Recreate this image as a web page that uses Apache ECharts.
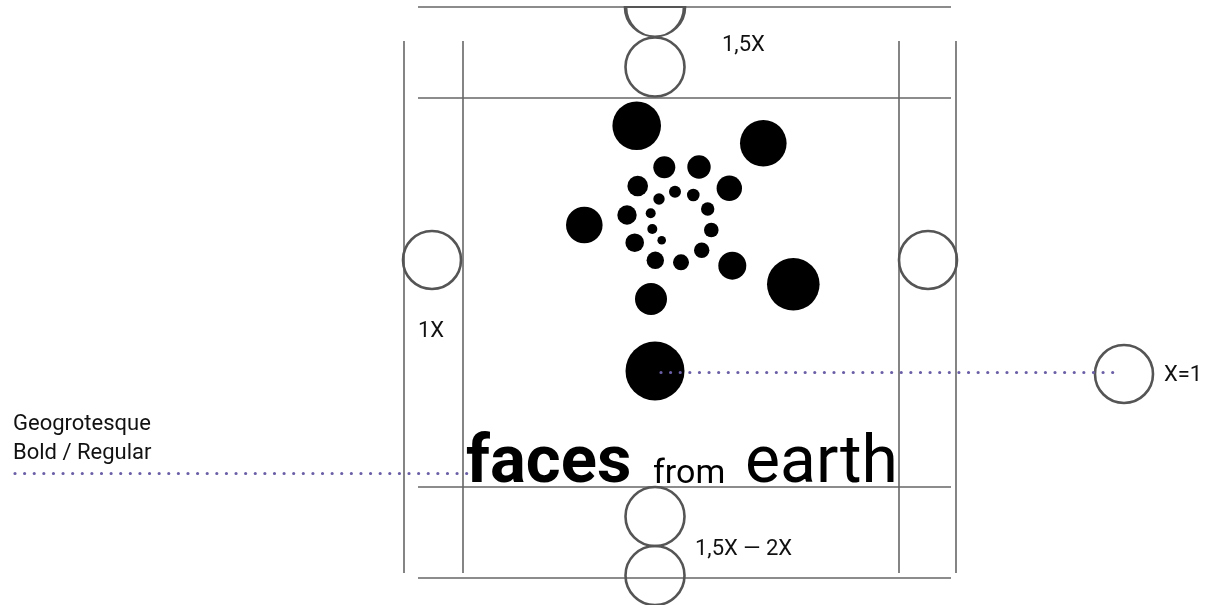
<!DOCTYPE html>
<html>
<head>
<meta charset="utf-8">
<script src="https://cdn.jsdelivr.net/npm/echarts@6/dist/echarts.min.js"></script>
<style>
html,body{margin:0;padding:0;background:#fff;}
#chart{width:1209px;height:605px;}
</style>
</head>
<body>
<div id="chart"></div>
<script>
// ---- data (canvas-like coordinate space, y grows downward) ----
const guideHY = [7, 98, 487, 578];          // horizontal guide lines
const guideHX = [418, 951];                 // their x extent
const guideVX = [404, 463, 899, 956];       // vertical guide lines
const guideVY = [41, 573];                  // their y extent

// outlined measuring circles: [x, y, diameter]
const guideCircles = [
  [655, 67, 59], [432, 260, 58], [928, 260, 58],
  [655, 516.5, 59], [655, 575.5, 59], [1124, 374, 58]
];
const halfCircles = [[655, 7, 59]];

// black spiral dots: [x, y, diameter]
const dots = [
  [636.7, 125.7, 48.6], [763.3, 143.3, 46.6], [584.3, 225, 36.6], [793.3, 284.3, 52.6],
  [651, 299, 32], [732.3, 265.7, 28], [729.3, 188.3, 25.4], [699, 167, 23.4],
  [664.3, 167.3, 22], [637.7, 186, 20.6], [627, 215, 19.4], [634.7, 242.7, 18.6],
  [655.3, 260.3, 17.4], [681, 262.3, 16], [701.7, 250.3, 15.4], [711.3, 230, 14.6],
  [707.7, 209, 13.4], [693.3, 195, 12.6], [675, 191.7, 12], [659, 199, 11.4],
  [650.7, 213.3, 10], [652.3, 229, 10], [661.7, 240.3, 8.6], [655, 371, 59]
];

// dotted leader lines
const leaders = [[[15, 473], [470, 473]], [[661, 372], [1120, 372]]];

// annotation texts
const labelTexts = ['1,5X', '1X', 'X=1', 'Geogrotesque', 'Bold / Regular', '1,5X \u2014 2X'];
const labelPos = [[722, 45], [418, 331], [1164, 375], [13, 424], [13, 453], [695, 549]];

const logoWords = ['faces', 'from', 'earth'];
const logoPos = [[466, 465], [653, 474], [745, 465]];
const logoSize = [67, 34, 66];
const logoWeight = ['bold', 'normal', 'normal'];

// ---- build ----
const segs = [];
guideHY.forEach(y => segs.push({coords: [[guideHX[0], y], [guideHX[1], y]]}));
guideVX.forEach(x => segs.push({coords: [[x, guideVY[0]], [x, guideVY[1]]]}));

const textSeries = labelTexts.map((t, i) => ({
  type: 'scatter', symbolSize: 0, z: 10, silent: true,
  itemStyle: {opacity: 1},
  data: [[labelPos[i][0], labelPos[i][1]]],
  label: {show: true, position: [0, 0], align: 'left', verticalAlign: 'middle',
    formatter: t, fontFamily: 'Roboto', fontSize: 22, color: '#111', opacity: 1}
}));
const logoSeries = logoWords.map((t, i) => ({
  type: 'scatter', symbolSize: 0, z: 11, silent: true,
  itemStyle: {opacity: 1},
  data: [[logoPos[i][0], logoPos[i][1]]],
  label: {show: true, position: [0, 0], align: 'left', verticalAlign: 'middle',
    formatter: t, fontFamily: 'Roboto', fontSize: logoSize[i], fontWeight: logoWeight[i], color: '#000', opacity: 1}
}));

const chart = echarts.init(document.getElementById('chart'));
chart.setOption({
  animation: false,
  backgroundColor: '#ffffff',
  grid: {left: 0, right: 0, top: 0, bottom: 0},
  xAxis: {type: 'value', min: 0, max: 1209, show: false},
  yAxis: {type: 'value', min: 0, max: 605, inverse: true, show: false},
  series: [
    {type: 'lines', coordinateSystem: 'cartesian2d', z: 1, silent: true,
     lineStyle: {color: '#666666', width: 1.6, opacity: 1}, data: segs},
    {type: 'scatter', z: 2, silent: true, data: guideCircles,
     symbolSize: d => d[2],
     itemStyle: {color: 'rgba(0,0,0,0)', borderColor: '#555555', borderWidth: 2.6, opacity: 1}},
    {type: 'scatter', z: 2, silent: true, data: halfCircles,
     symbol: 'path://M0,0 A50,50 0 0 0 100,0 Z',
     symbolSize: d => [d[2], d[2] / 2], symbolOffset: [0, 14.75],
     itemStyle: {color: 'rgba(0,0,0,0)', borderColor: '#555555', borderWidth: 2.6, opacity: 1}},
    {type: 'scatter', z: 3, silent: true, data: dots,
     symbolSize: d => d[2], itemStyle: {color: '#000', opacity: 1}},
    {type: 'lines', coordinateSystem: 'cartesian2d', z: 4, silent: true,
     lineStyle: {color: '#6a5fa6', width: 3.2, opacity: 1, type: [0.01, 9.6], cap: 'round'},
     data: leaders.map(c => ({coords: c}))},
    ...textSeries,
    ...logoSeries
  ]
});
</script>
</body>
</html>
